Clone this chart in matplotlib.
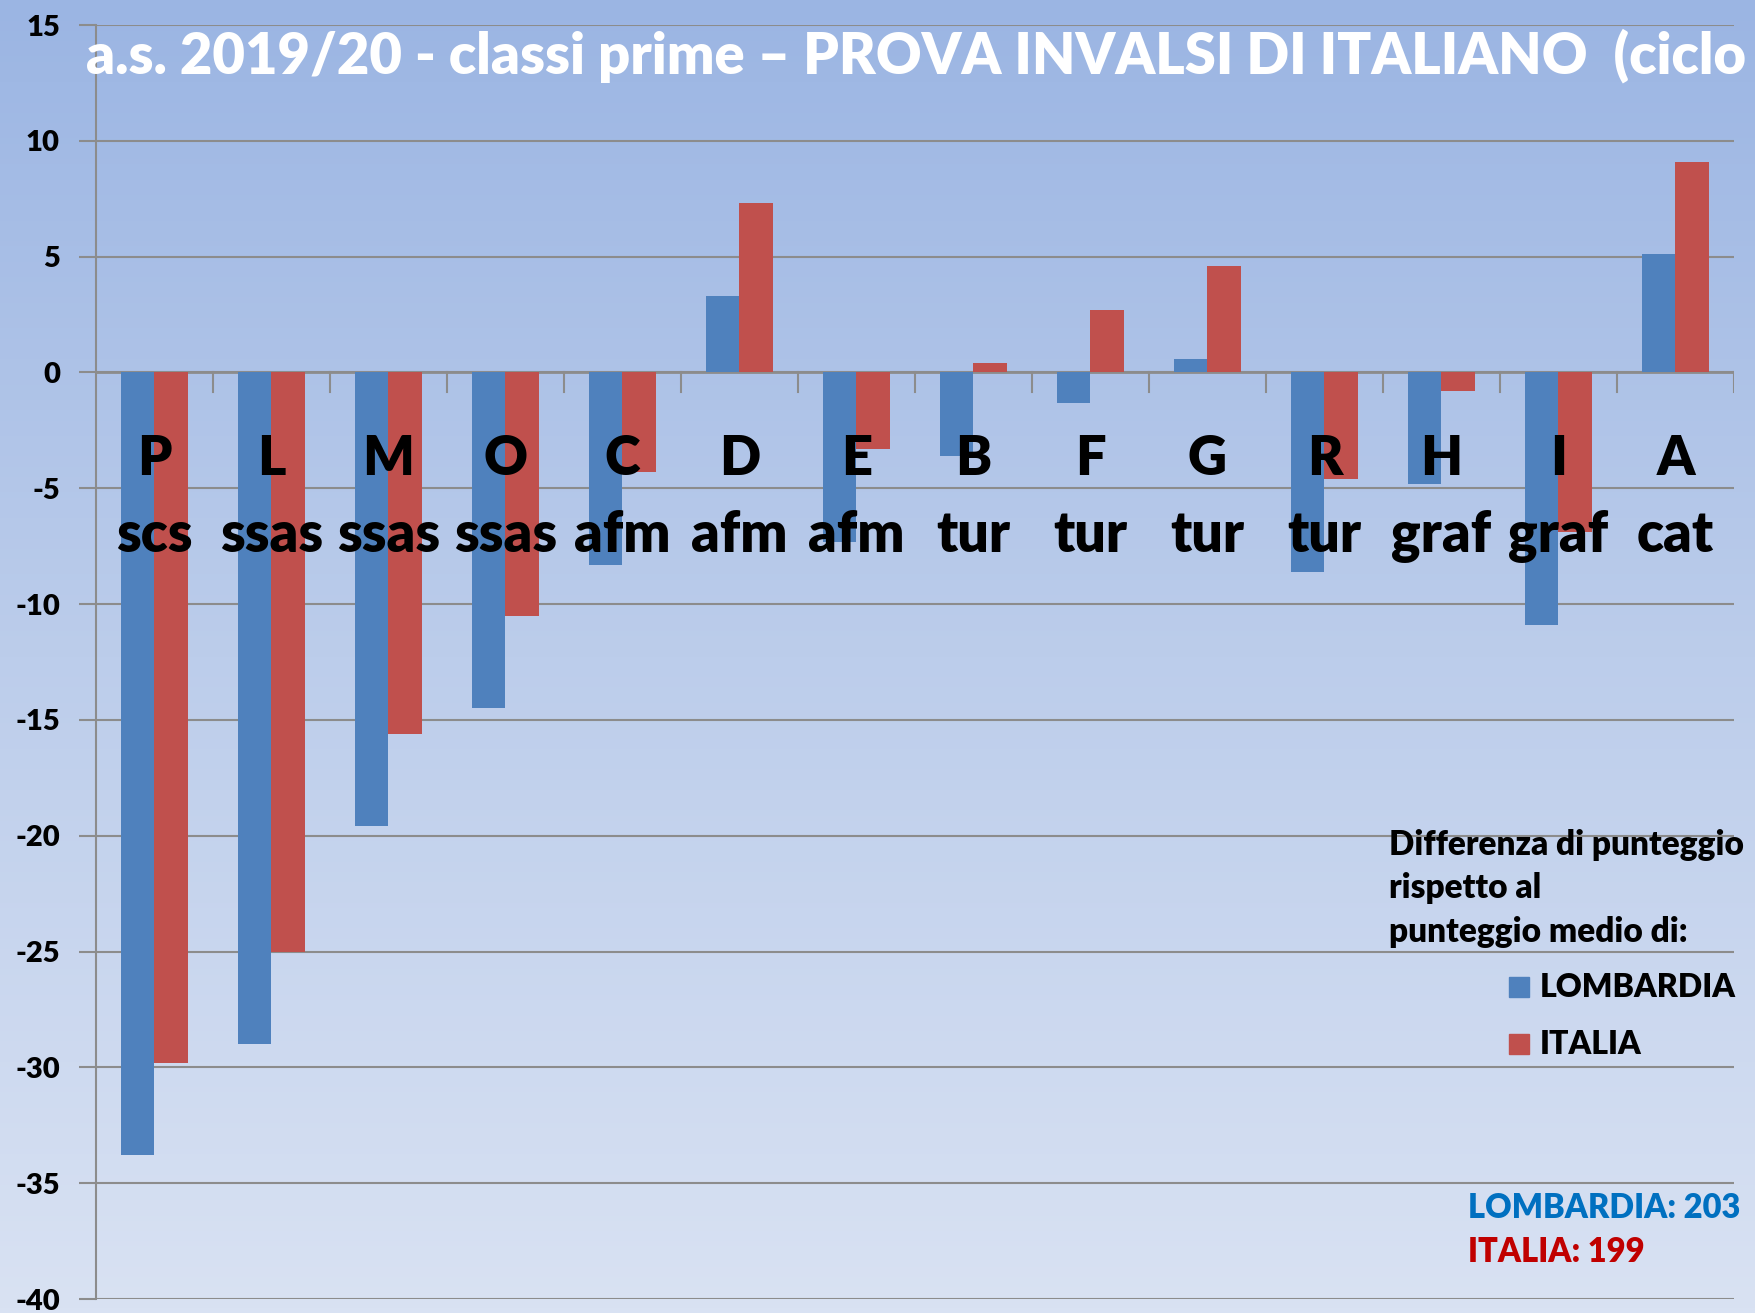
import numpy as np
import matplotlib
matplotlib.use("Agg")
import matplotlib.pyplot as plt
from matplotlib.colors import LinearSegmentedColormap

# dati
lettere = ["P", "L", "M", "O", "C", "D", "E", "B", "F", "G", "R", "H", "I", "A"]
indirizzi = ["scs", "ssas", "ssas", "ssas", "afm", "afm", "afm", "tur", "tur", "tur",
             "tur", "graf", "graf", "cat"]
lombardia = [-33.8, -29.0, -19.6, -14.5, -8.3, 3.3, -7.3, -3.6, -1.3, 0.6, -8.6, -4.8, -10.9, 5.1]
italia = [-29.8, -25.0, -15.6, -10.5, -4.3, 7.3, -3.3, 0.4, 2.7, 4.6, -4.6, -0.8, -6.9, 9.1]
yticks = list(range(-40, 16, 5))

plt.rcParams['font.family'] = ['Lato', 'DejaVu Sans']
plt.rcParams['font.weight'] = 'bold'

blu = "#4f81bd"
rosso = "#c0504d"
griglia = "#8c8c8c"
peso = 'heavy'

fig = plt.figure(figsize=(17.56, 13.13), dpi=100)

# sfondo sfumato
bg = fig.add_axes([0, 0, 1, 1], zorder=-10)
cmap = LinearSegmentedColormap.from_list("sfondo", ["#d9e2f3", "#bccdeb", "#9bb5e3"])
grad = np.linspace(0, 1, 256).reshape(-1, 1)
bg.imshow(grad, aspect="auto", cmap=cmap, origin="lower", extent=[0, 1, 0, 1])
bg.axis("off")

ax = fig.add_axes([96 / 1756, 1 - 1299 / 1313, (1734 - 96) / 1756, (1299 - 25) / 1313])
ax.patch.set_alpha(0)

x = np.arange(len(lettere))
w = 0.29
ax.bar(x - w / 2, lombardia, width=w, color=blu, zorder=3)
ax.bar(x + w / 2, italia, width=w, color=rosso, zorder=3)

ax.set_xlim(-0.5, len(lettere) - 0.5)
ax.set_ylim(-40, 15)
ax.set_yticks(yticks)
ax.set_yticklabels([str(v) for v in yticks], fontsize=21, fontweight=peso)
ax.tick_params(axis='y', length=12, width=1.5, color=griglia, pad=14)
ax.set_xticks([])
ax.yaxis.grid(True, color=griglia, linewidth=1.5, zorder=1)
ax.set_axisbelow(True)

for s in ["top", "right", "bottom"]:
    ax.spines[s].set_visible(False)
ax.spines["left"].set_color(griglia)
ax.spines["left"].set_linewidth(1.5)

# asse x a zero con tacche tra le categorie
ax.axhline(0, color=griglia, linewidth=2, zorder=2)
for b in np.arange(0.5, len(lettere), 1):
    ax.plot([b, b], [0, -0.85], color=griglia, linewidth=1.5, zorder=2)

for i in range(len(lettere)):
    ax.text(x[i], -4.43, lettere[i], ha='center', va='baseline', fontsize=39,
            fontweight=peso, zorder=5)
    ax.text(x[i], -7.75, indirizzi[i], ha='center', va='baseline', fontsize=40,
            fontweight=peso, zorder=5)

fig.text(86 / 1756, 1 - 74 / 1313,
         "a.s. 2019/20 - classi prime \u2013 PROVA INVALSI DI ITALIANO  (ciclo",
         color="white", fontsize=40.4, fontweight=peso, va='baseline', ha='left')

# legenda
fig.text(1389 / 1756, 1 - 855 / 1313, "Differenza di punteggio", fontsize=24,
         fontweight=peso, va='baseline')
fig.text(1389 / 1756, 1 - 898 / 1313, "rispetto al", fontsize=24,
         fontweight=peso, va='baseline')
fig.text(1389 / 1756, 1 - 942 / 1313, "punteggio medio di:", fontsize=24,
         fontweight=peso, va='baseline')
fig.patches.append(plt.Rectangle((1509 / 1756, 1 - 997 / 1313), 20 / 1756, 20 / 1313,
                                 color=blu, transform=fig.transFigure))
fig.patches.append(plt.Rectangle((1509 / 1756, 1 - 1054 / 1313), 20 / 1756, 20 / 1313,
                                 color=rosso, transform=fig.transFigure))
fig.text(1540 / 1756, 1 - 997 / 1313, "LOMBARDIA", fontsize=23, fontweight=peso,
         va='baseline')
fig.text(1540 / 1756, 1 - 1054 / 1313, "ITALIA", fontsize=23, fontweight=peso,
         va='baseline')

fig.text(1468 / 1756, 1 - 1218 / 1313, "LOMBARDIA: 203", fontsize=23.5,
         fontweight=peso, color="#0070c0", va='baseline')
fig.text(1468 / 1756, 1 - 1262 / 1313, "ITALIA: 199", fontsize=23.5,
         fontweight=peso, color="#c00000", va='baseline')

fig.savefig("out.png", dpi=100)
